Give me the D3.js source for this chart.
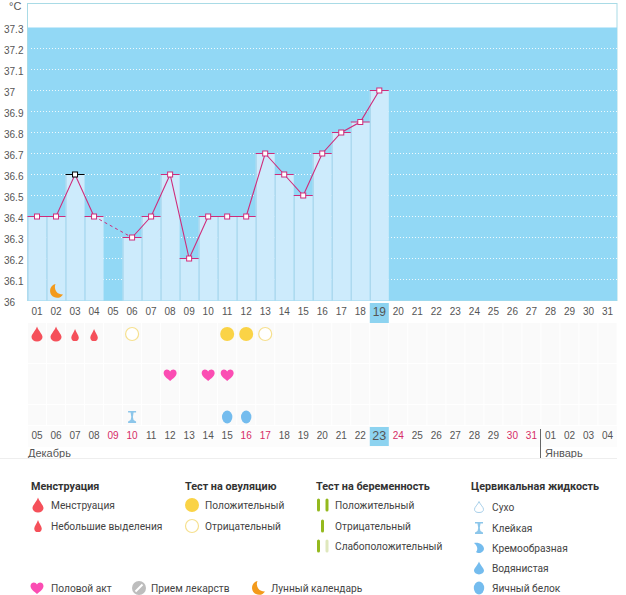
<!DOCTYPE html>
<html>
<head>
<meta charset="utf-8">
<script src="https://cdn.jsdelivr.net/npm/d3@7"></script>
<style>
  html, body { margin: 0; padding: 0; background: #fff; }
  svg { display: block; }
  text { font-family: "Liberation Sans", sans-serif; font-size: 10px; fill: #555; }
  .legend text { font-family: Roboto, sans-serif; font-size: 10.2px; fill: #444; }
  .legend text.title { font-size: 10.8px; font-weight: 700; fill: #333; }
</style>
</head>
<body>
<svg id="chart" width="626" height="595"></svg>
<script>
// cycle days along the top, calendar dates along the bottom
const cycleDays = ['01','02','03','04','05','06','07','08','09','10','11','12','13','14','15','16','17','18','19','20','21','22','23','24','25','26','27','28','29','30','31'];
const dates = ['05','06','07','08','09','10','11','12','13','14','15','16','17','18','19','20','21','22','23','24','25','26','27','28','29','30','31','01','02','03','04'];
const redDates = ['09','10','16','17','24','30','31'];
const temps = [36.4,36.4,36.6,36.4,null,36.3,36.4,36.6,36.2,36.4,36.4,36.4,36.7,36.6,36.5,36.7,36.8,36.85,37];
const yTicks = [36,36.1,36.2,36.3,36.4,36.5,36.6,36.7,36.8,36.9,37,37.1,37.2,37.3];
const currentDay = '19';
const currentDate = '23';
const selectedDay = '03';

// marks per row
const heavyFlow = ['01','02'];
const lightFlow = ['03','04'];
const ovuPositive = ['11','12'];
const ovuNegative = ['06','13'];
const sex = ['08','10','11'];
const sticky = ['06'];
const eggWhite = ['11','12'];
const moon = ['02'];

const svg = d3.select('#chart');
const x = d3.scaleBand().domain(cycleDays).range([27.5, 617]);
const xDate = d3.scaleBand().domain(dates).range([27.5, 617]);
const y = d3.scaleLinear().domain([36, 37.3]).range([300.5, 27.5]);
const cx = d => x(d) + x.bandwidth() / 2;

const PINK = '#cf2c7b';

// icons, all centred on 0,0
const drop = (w, h) => `M0,${-h/2} C${w*0.15},${-h*0.2} ${w/2},${h*0.02} ${w/2},${h*0.2} A${w/2},${h*0.3} 0 0 1 ${-w/2},${h*0.2} C${-w/2},${h*0.02} ${-w*0.15},${-h*0.2} 0,${-h/2}Z`;
const heartPath = 'M0,6 C-3,3.5 -6.5,1 -6.5,-2 C-6.5,-4.5 -4.5,-5.5 -3.2,-5.5 C-1.8,-5.5 -0.6,-4.7 0,-3.6 C0.6,-4.7 1.8,-5.5 3.2,-5.5 C4.5,-5.5 6.5,-4.5 6.5,-2 C6.5,1 3,3.5 0,6Z';
const moonPath = 'M-0.5,-7 A7,7 0 1 0 7,3.5 A7.5,7.5 0 0 1 -0.5,-7Z';
const stickyPath = 'M-4,-6 H4 V-4.5 H1.5 L0.8,0 L1.5,3 L4,4.5 V6 H-4 V4.5 L-1.5,3 L-0.8,0 L-1.5,-4.5 H-4Z';
const creamyPath = 'M-5,-5 C0,-6 5,-3 5,1 A5,5 0 0 1 -3,4 C-1,2 -1,-2 -5,-5Z';
const stick = (g, px, colour) => g.append('rect').attr('x', px).attr('y', -6.5).attr('width', 3).attr('height', 13).attr('rx', 1.5).attr('fill', colour);

const icons = {
  heavy: g => g.append('path').attr('d', drop(11, 15)).attr('fill', '#f5505a'),
  light: g => g.append('path').attr('d', drop(7.5, 12)).attr('fill', '#f5505a'),
  ovuPos: g => g.append('circle').attr('r', 7).attr('fill', '#fad346'),
  ovuNeg: g => g.append('circle').attr('r', 6.5).attr('fill', '#fff').attr('stroke', '#f6e08f').attr('stroke-width', 1.2),
  heart: g => g.append('path').attr('d', heartPath).attr('fill', '#fb4db3'),
  moon: g => g.append('path').attr('d', moonPath).attr('fill', '#f39a1b'),
  sticky: g => g.append('path').attr('d', stickyPath).attr('fill', '#8cc6ea'),
  egg: g => g.append('ellipse').attr('rx', 5.2).attr('ry', 6.5).attr('fill', '#74bcee'),
  dry: g => g.append('path').attr('d', drop(9, 11)).attr('fill', '#fff').attr('stroke', '#a8d0ea'),
  creamy: g => g.append('path').attr('d', creamyPath).attr('fill', '#74bcee'),
  watery: g => g.append('path').attr('d', drop(10, 13)).attr('fill', '#74bcee'),
  pill: g => {
    g.append('circle').attr('r', 7).attr('fill', '#bdbdbd');
    g.append('line').attr('x1', -3.5).attr('y1', 3.5).attr('x2', 3.5).attr('y2', -3.5).attr('stroke', '#fff').attr('stroke-width', 2);
  },
  bars2: g => { stick(g, -5, '#94b91e'); stick(g, 3.5, '#94b91e'); },
  bar1: g => stick(g, -1, '#94b91e'),
  barsWeak: g => { stick(g, -5, '#94b91e'); stick(g, 3.5, '#dfe8bd'); }
};
const place = (parent, icon, px, py) => {
  const g = parent.append('g').attr('transform', `translate(${px},${py})`);
  icons[icon](g);
};

// plot background and frame
svg.append('rect').attr('x', 27.5).attr('y', 3.5).attr('width', 589.5).attr('height', 297).attr('fill', '#fff').attr('stroke', '#a9dbe6');
svg.append('rect').attr('x', 28).attr('y', y(37.3)).attr('width', 589).attr('height', y(36) - y(37.3)).attr('fill', '#92d8f5');

// dotted grid
svg.selectAll('.grid').data(yTicks.filter(t => t > 36 && t < 37.3)).enter().append('line')
  .attr('x1', 31).attr('x2', 617)
  .attr('y1', d => y(d)).attr('y2', d => y(d))
  .attr('stroke', '#fff').attr('stroke-dasharray', '1,2').attr('opacity', 0.85);

// bars
const readings = temps.map((v, i) => ({ day: cycleDays[i], v })).filter(d => d.v !== null);
svg.selectAll('.bar').data(readings).enter().append('rect')
  .attr('x', d => x(d.day)).attr('width', x.bandwidth())
  .attr('y', d => y(d.v)).attr('height', d => y(36) - y(d.v))
  .attr('fill', '#cdebfc');
svg.selectAll('.sep').data(readings).enter().append('line')
  .attr('x1', d => x(d.day) + 0.5).attr('x2', d => x(d.day) + 0.5)
  .attr('y1', d => y(d.v)).attr('y2', y(36))
  .attr('stroke', '#a3d3ea');

// caps on the bars
svg.selectAll('.cap').data(readings).enter().append('line')
  .attr('x1', d => x(d.day)).attr('x2', d => x(d.day) + x.bandwidth())
  .attr('y1', d => y(d.v)).attr('y2', d => y(d.v))
  .attr('stroke', d => d.day === selectedDay ? '#000' : PINK);

// temperature line, solid where days are consecutive and dashed over the gap
const line = d3.line().defined(d => d.v !== null).x(d => cx(d.day)).y(d => y(d.v));
svg.append('path').attr('d', line(temps.map((v, i) => ({ day: cycleDays[i], v }))))
  .attr('fill', 'none').attr('stroke', PINK).attr('stroke-width', 1.1);
svg.append('path').attr('d', d3.line().x(d => cx(d.day)).y(d => y(d.v))(readings.filter(d => d.day === '04' || d.day === '06')))
  .attr('fill', 'none').attr('stroke', PINK).attr('stroke-dasharray', '3,3');

// points
svg.selectAll('.pt').data(readings).enter().append('rect')
  .attr('x', d => cx(d.day) - 2.5).attr('y', d => y(d.v) - 2.5)
  .attr('width', 5).attr('height', 5)
  .attr('fill', '#fff').attr('stroke', d => d.day === selectedDay ? '#000' : PINK);

// y axis
const yAxis = svg.append('g').attr('transform', 'translate(4,0)')
  .call(d3.axisRight(y).tickValues(yTicks).tickFormat(d => String(d)).tickSize(0).tickPadding(0));
yAxis.select('.domain').remove();
yAxis.selectAll('text').attr('dy', '0.5em');
svg.append('text').attr('x', 9).attr('y', 10).style('font-size', '11px').text('°C');

// marker grid
const rowEdges = [323, 343, 364, 384, 405];
const rowH = 20;
rowEdges.forEach(top => {
  svg.selectAll(null).data(cycleDays).enter().append('rect')
    .attr('x', d => x(d) + 0.5).attr('y', top)
    .attr('width', x.bandwidth() - 1).attr('height', rowH)
    .attr('fill', '#fafafa');
});
svg.append('rect').attr('x', 28).attr('y', 426).attr('width', 589).attr('height', 21).attr('fill', '#fcfcfc');

// today highlights
svg.append('rect').attr('x', x(currentDay)).attr('y', 303).attr('width', x.bandwidth()).attr('height', 20).attr('fill', '#8dd3f0');
svg.append('rect').attr('x', xDate(currentDate)).attr('y', 427).attr('width', xDate.bandwidth()).attr('height', 19).attr('fill', '#8dd3f0');

// day axis
const dayAxis = svg.append('g').attr('transform', 'translate(0,308)')
  .call(d3.axisBottom(x).tickSize(0).tickPadding(0));
dayAxis.select('.domain').remove();
dayAxis.selectAll('text')
  .style('font-size', d => d === currentDay ? '12px' : null)
  .attr('dy', d => d === currentDay ? '0.66em' : '0.71em');

// date axis
const dateAxis = svg.append('g').attr('transform', 'translate(0,432)')
  .call(d3.axisBottom(xDate).tickSize(0).tickPadding(0));
dateAxis.select('.domain').remove();
dateAxis.selectAll('text')
  .style('font-size', d => d === currentDate ? '12.5px' : null)
  .attr('dy', d => d === currentDate ? '0.6em' : '0.71em')
  .style('fill', d => redDates.includes(d) ? '#d62b66' : null);

// month labels
svg.append('text').attr('x', 28).attr('y', 457).style('font-size', '11px').text('Декабрь');
svg.append('text').attr('x', 545).attr('y', 457).style('font-size', '11px').text('Январь');
svg.append('line').attr('x1', 540.5).attr('x2', 540.5).attr('y1', 429).attr('y2', 458).attr('stroke', '#666');
svg.append('line').attr('x1', 0).attr('x2', 617).attr('y1', 458.5).attr('y2', 458.5).attr('stroke', '#eee');

// row markers
const rows = [
  [heavyFlow, 'heavy', 334], [lightFlow, 'light', 335],
  [ovuPositive, 'ovuPos', 334], [ovuNegative, 'ovuNeg', 334],
  [sex, 'heart', 375],
  [sticky, 'sticky', 417], [eggWhite, 'egg', 417],
  [moon, 'moon', 291]
];
rows.forEach(([days, icon, py]) => days.forEach(d => place(svg, icon, cx(d), py)));

// legend
const legend = svg.append('g').attr('class', 'legend');
const legendTitles = [['Менструация', 31], ['Тест на овуляцию', 185], ['Тест на беременность', 316], ['Цервикальная жидкость', 471]];
const legendItems = [
  ['Менструация', 'heavy', 38, 51, 505], ['Небольшие выделения', 'light', 38, 51, 526],
  ['Положительный', 'ovuPos', 192, 205, 505], ['Отрицательный', 'ovuNeg', 192, 205, 526],
  ['Положительный', 'bars2', 322, 335, 505], ['Отрицательный', 'bar1', 322, 335, 526], ['Слабоположительный', 'barsWeak', 322, 335, 546],
  ['Сухо', 'dry', 479, 492, 507], ['Клейкая', 'sticky', 479, 492, 528], ['Кремообразная', 'creamy', 479, 492, 548], ['Водянистая', 'watery', 479, 492, 568], ['Яичный белок', 'egg', 479, 492, 588],
  ['Половой акт', 'heart', 37, 51, 588], ['Прием лекарств', 'pill', 139, 151, 588], ['Лунный календарь', 'moon', 258, 271, 588]
];
legendTitles.forEach(([t, lx]) => legend.append('text').attr('class', 'title').attr('x', lx).attr('y', 490).text(t));
legendItems.forEach(([t, icon, ix, tx, ly]) => {
  place(legend, icon, ix, ly);
  legend.append('text').attr('x', tx).attr('y', ly + 4).text(t);
});
</script>
</body>
</html>
